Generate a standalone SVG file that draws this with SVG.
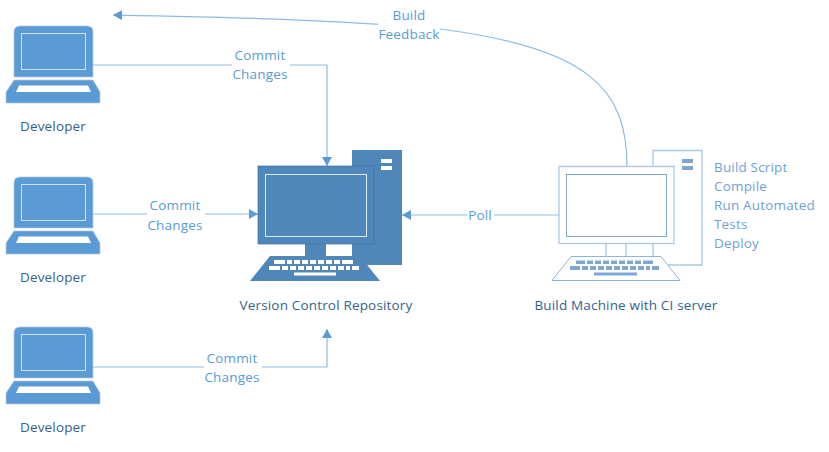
<svg xmlns="http://www.w3.org/2000/svg" width="829" height="452" viewBox="0 0 829 452">
<style>
text{font-family:"Open Sans","Noto Sans","Liberation Sans",sans-serif;font-size:13.500px;letter-spacing:.17px;text-anchor:middle}
.lab{fill:#5b9bd5}
.cap{fill:#34628f}
.side{fill:#6f9fd8;text-anchor:start}
.line{fill:none;stroke:#8fbbe3;stroke-width:1.2}
.mask{fill:#fff;stroke:none}
.lap{fill:#5b9bd5;stroke:#b4c7dc;stroke-width:.7}
.scr{fill:none;stroke:#cfe2f3;stroke-width:1}
.d{fill:#4f87bb}
.o{fill:#fff;stroke:#a9c6e5;stroke-width:1.3}
.o2{fill:#fff;stroke:#7ea6d3;stroke-width:1}
.k{fill:#7ea6d3}
</style>
<defs>
<marker id="a" markerUnits="userSpaceOnUse" markerWidth="10" markerHeight="10" refX="9" refY="5" orient="auto"><path d="M0 0L9 5L0 10z" fill="#5b9bd5"/></marker>
<g id="laptop">
<path class="lap" d="M14 77V32Q14 26 20 26H87Q93 26 93 32V77z"/>
<rect class="scr" x="21.500" y="33.500" width="64" height="36"/>
<path class="lap" d="M14 80H93L100 92V103H6V92z"/>
<path d="M19 85.500H88L91 92H16z" fill="#fff"/>
</g>
</defs>
<g id="connectors">
<path class="line" marker-end="url(#a)" d="M93 65H327V166"/>
<path class="line" marker-end="url(#a)" d="M93 214H258"/>
<path class="line" marker-end="url(#a)" d="M93 367H327V329"/>
<path class="line" marker-end="url(#a)" d="M559 215H402"/>
<path class="line" marker-end="url(#a)" d="M627 166C627 90 590 48 440 29C330 19 220 17 113 15"/>
</g>
<g id="dev1"><use href="#laptop"/><text class="cap" x="53" y="131">Developer</text></g>
<g id="dev2"><use href="#laptop" y="151"/><text class="cap" x="53" y="282">Developer</text></g>
<g id="dev3"><use href="#laptop" y="301"/><text class="cap" x="53" y="432">Developer</text></g>
<g id="repo">
<rect class="d" x="352" y="150" width="50" height="115"/>
<rect x="381" y="159" width="11" height="4" fill="#fff"/><rect x="381" y="166" width="11" height="4" fill="#fff"/>
<rect x="305" y="244" width="21" height="14" class="d"/>
<rect class="d" x="258" y="166" width="116" height="78" stroke="#44729f" stroke-width=".7"/>
<rect x="265.500" y="174.500" width="101" height="62" fill="none" stroke="#dfe9f3" stroke-width="1"/>
<path class="d" d="M270 256H360L380 281H250z"/>
<path d="M274 260H353V264H274zM269 266H359V270H269zM294 272.500H336V275.500H294z" fill="#fff"/>
<path d="M286 259.500v5M293 259.500v5M301 259.500v5M309 259.500v5M317 259.500v5M325 259.500v5M333 259.500v5M341 259.500v5M281 265.500v5M289 265.500v5M297 265.500v5M305 265.500v5M313 265.500v5M321 265.500v5M329 265.500v5M337 265.500v5M345 265.500v5M351 265.500v5" stroke="#4f87bb" stroke-width="2" fill="none"/>
<text class="cap" x="326" y="310">Version Control Repository</text>
</g>
<g id="ci">
<path class="o" d="M653 166V150.500H702V265H668"/>
<path class="k" d="M682 159h11v4h-11zM682 166h11v4h-11z"/>
<path d="M606 244V256M626 244V256M653 244V256" stroke="#8fb4dc" stroke-width="1" fill="none"/>
<rect class="o" x="559" y="166.500" width="115" height="77"/>
<rect class="o2" x="566.500" y="174.500" width="100" height="62"/>
<path d="M571 256.500H661L680 280.500H552z" fill="#fff" stroke="#8fb4dc" stroke-width="1"/>
<path d="M576 260.500H653V264H576zM570 266H659V270H570zM594 272.500H637V275.500H594z" class="k"/>
<path d="M586 259.500v5M594 259.500v5M602 259.500v5M610 259.500v5M618 259.500v5M626 259.500v5M634 259.500v5M642 259.500v5M581 265.500v5M589 265.500v5M597 265.500v5M605 265.500v5M613 265.500v5M621 265.500v5M629 265.500v5M637 265.500v5M645 265.500v5M651 265.500v5" stroke="#fff" stroke-width="2" fill="none"/>
<text class="cap" x="626" y="310">Build Machine with CI server</text>
<text class="side" x="714" y="172">Build Script</text>
<text class="side" x="714" y="191">Compile</text>
<text class="side" x="714" y="210">Run Automated</text>
<text class="side" x="714" y="229">Tests</text>
<text class="side" x="714" y="248">Deploy</text>
</g>
<g id="labels">
<rect class="mask" x="232" y="47" width="58" height="36"/>
<text class="lab" x="260" y="60">Commit</text><text class="lab" x="260" y="79">Changes</text>
<rect class="mask" x="147" y="197" width="58" height="36"/>
<text class="lab" x="175" y="210">Commit</text><text class="lab" x="175" y="230">Changes</text>
<rect class="mask" x="204" y="349" width="58" height="36"/>
<text class="lab" x="232" y="363">Commit</text><text class="lab" x="232" y="382">Changes</text>
<rect class="mask" x="467" y="206" width="27" height="18"/>
<text class="lab" x="480" y="220">Poll</text>
<rect class="mask" x="378" y="6" width="62" height="36"/>
<text class="lab" x="409" y="20">Build</text><text class="lab" x="409" y="39">Feedback</text>
</g>
</svg>
